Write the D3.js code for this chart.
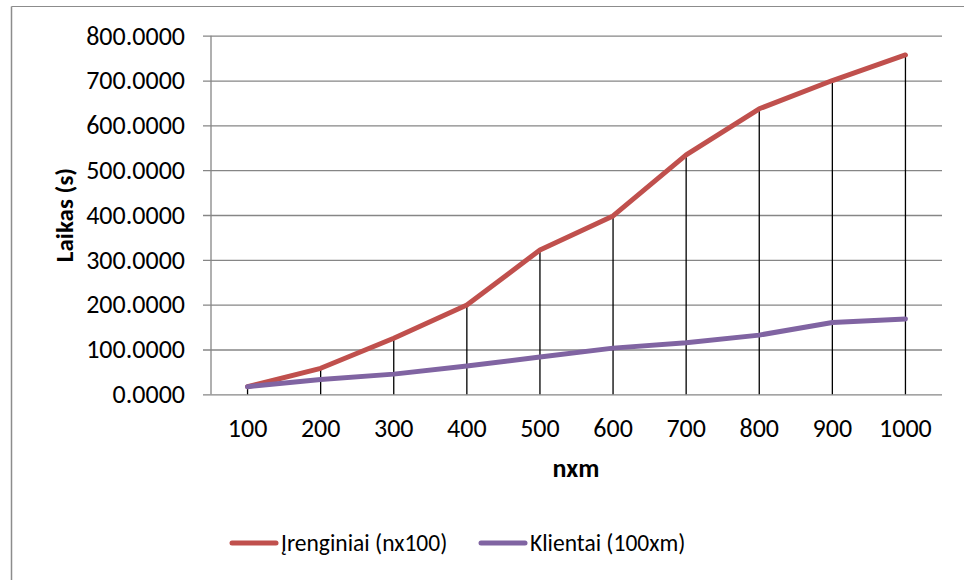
<!DOCTYPE html>
<html><head><meta charset="utf-8">
<script src="https://cdn.jsdelivr.net/npm/d3@7"></script>
<style>body{margin:0;background:#fff}svg{display:block}</style>
</head><body><svg id="c" width="964" height="580"></svg>
<script>
const categories = ["100","200","300","400","500","600","700","800","900","1000"];
const irenginiai = [17, 58, 125, 199, 322, 398, 534, 637, 700, 757];
const klientai = [17, 33, 45, 63, 83, 103, 115, 132, 160, 168];
const yTicks = [0,100,200,300,400,500,600,700,800];
const seriesNames = ["Įrenginiai (nx100)", "Klientai (100xm)"];
const colors = ["#C0504D", "#8064A2"];
const FONT = 'Calibri, Carlito, "Open Sans", sans-serif';

const svg = d3.select("#c");
// chart border (cropped on right/bottom)
svg.append("line").attr("x1",11.5).attr("x2",964).attr("y1",6.5).attr("y2",6.5).attr("stroke","#8c8c8c").attr("stroke-width",1);
svg.append("line").attr("x1",11.5).attr("x2",11.5).attr("y1",6.5).attr("y2",580).attr("stroke","#8c8c8c").attr("stroke-width",1.5);

const L=211, R=942, T=35.7, B=394.3;
const x = d3.scaleBand().domain(categories).range([L,R]);
const y = d3.scaleLinear().domain([0,800]).range([B,T]);
const cx = c => x(c)+x.bandwidth()/2;

// gridlines + y axis
const yAxis = d3.axisLeft(y).tickValues(yTicks).tickFormat(d=>d3.format(".4f")(d)).tickSize(-(R-L)).tickPadding(26);
const gy = svg.append("g").attr("transform",`translate(${L},0)`).call(yAxis);
gy.select(".domain").remove();
gy.selectAll(".tick line").attr("stroke","#868686").attr("stroke-width",1.3).attr("x1",-8);
gy.selectAll(".tick text").attr("font-size",26).attr("font-family",FONT).attr("fill","#000");
svg.append("line").attr("x1",L).attr("x2",L).attr("y1",T).attr("y2",B).attr("stroke","#868686").attr("stroke-width",1.3);

const xAxis = d3.axisBottom(x).tickSize(0).tickPadding(24);
const gx = svg.append("g").attr("transform",`translate(0,${B})`).call(xAxis);
gx.select(".domain").remove();
gx.selectAll(".tick text").attr("font-size",26).attr("font-family",FONT).attr("fill","#000");

// drop lines
svg.append("g").selectAll("line").data(categories).join("line")
  .attr("x1",d=>cx(d)).attr("x2",d=>cx(d))
  .attr("y1",(d,i)=>y(Math.max(irenginiai[i],klientai[i]))).attr("y2",y(0))
  .attr("stroke","#000").attr("stroke-width",1.3);

const line = d3.line().x((d,i)=>cx(categories[i])).y(d=>y(d));
[irenginiai, klientai].forEach((s,k)=>{
  svg.append("path").datum(s).attr("d",line).attr("fill","none")
    .attr("stroke",colors[k]).attr("stroke-width",5).attr("stroke-linejoin","round").attr("stroke-linecap","round");
});

// axis titles
svg.append("text").attr("transform",`translate(73,215) rotate(-90)`).attr("text-anchor","middle")
  .attr("font-family",FONT).attr("font-size",25).attr("font-weight","bold").text("Laikas (s)");
svg.append("text").attr("x",576).attr("y",477).attr("text-anchor","middle")
  .attr("font-family",FONT).attr("font-size",26).attr("font-weight","bold").text("nxm");

// legend
const legX=[232,481];
seriesNames.forEach((n,k)=>{
  const g=svg.append("g");
  g.append("line").attr("x1",legX[k]).attr("x2",legX[k]+44).attr("y1",543).attr("y2",543)
   .attr("stroke",colors[k]).attr("stroke-width",5).attr("stroke-linecap","round");
  g.append("text").attr("x",legX[k]+49).attr("y",551).attr("font-family",FONT).attr("font-size",23.5).text(n);
});
</script></body></html>
